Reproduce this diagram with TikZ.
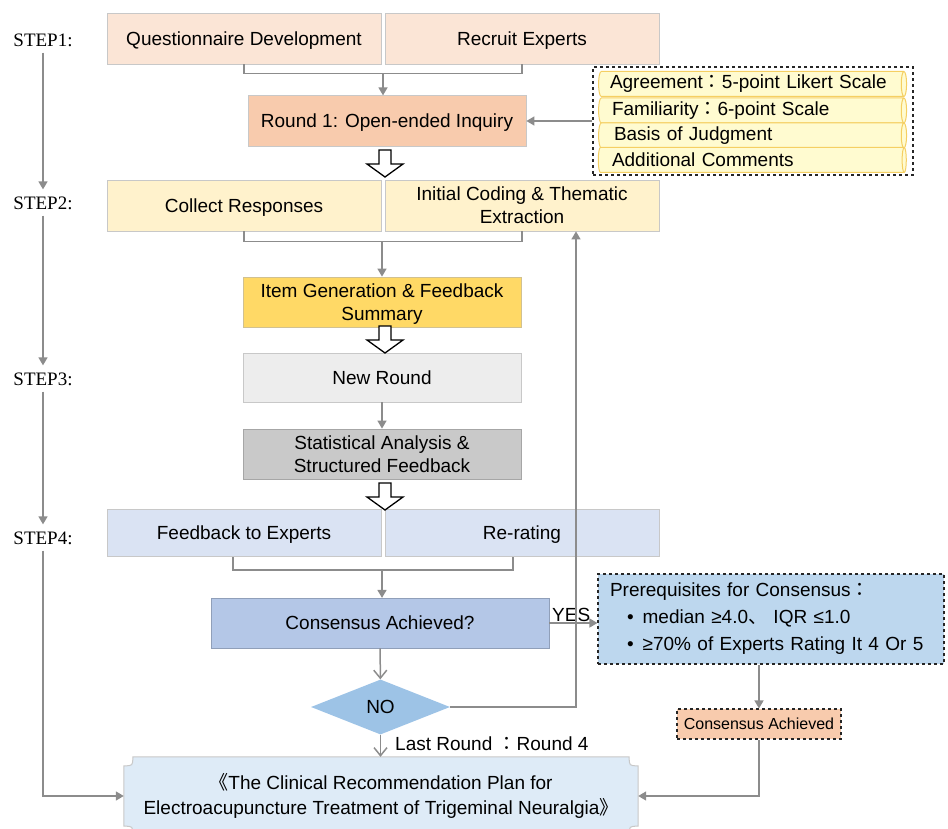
\documentclass[tikz,border=0pt]{standalone}
\usepackage{fontspec}
\setmainfont{Liberation Sans}
\newfontfamily\stepfont{Liberation Serif}
\newfontfamily\cjk{Noto Sans CJK SC}
\newfontfamily\cjkc{Noto Sans CJK JP}
\usetikzlibrary{arrows.meta}
\usetikzlibrary{calc}
\usetikzlibrary{shapes.geometric}
\usetikzlibrary{backgrounds}
\definecolor{linegray}{HTML}{8C8C8C}
\definecolor{boxline}{HTML}{C8C8C8}
\definecolor{peach}{HTML}{FBE5D6}
\definecolor{salmon}{HTML}{F8CBAD}
\definecolor{cream}{HTML}{FFF2CC}
\definecolor{gold}{HTML}{FFD966}
\definecolor{lightgray}{HTML}{EDEDED}
\definecolor{midgray}{HTML}{C9C9C9}
\definecolor{paleblue}{HTML}{DAE3F3}
\definecolor{softblue}{HTML}{B4C7E7}
\definecolor{skyblue}{HTML}{BDD7EE}
\definecolor{diablue}{HTML}{9DC3E6}
\definecolor{planblue}{HTML}{DEEBF7}
\definecolor{rowfill}{HTML}{FFFBD0}
\definecolor{rowline}{HTML}{F5CF62}
\tikzset{
      box/.style={draw=boxline, line width=0.8, minimum height=51, inner sep=2, align=center,
            text depth=0pt, font=\fontsize{19}{23}\selectfont},
      dashbox/.style={draw=black!85, dashed, line width=1.1},
      steplabel/.style={font=\stepfont\fontsize{19}{22}\selectfont, inner sep=1},
      row/.style={cylinder, shape aspect=0.3, draw=rowline, line width=1, cylinder uses custom fill,
            cylinder body fill=rowfill, cylinder end fill=rowfill, minimum height=308, minimum width=25,
            text width=288, align=left, inner sep=0, font=\fontsize{19}{23}\selectfont},
      link/.style={draw=linegray, line width=1.5},
      flow/.style={draw=linegray, line width=1.5, -{Triangle[length=8,width=9]}},
      vflow/.style={draw=linegray, line width=1.5, -{Straight Barb[length=8,width=13]}},
      hollow/.style={draw=black, fill=white, line width=1.3, line join=miter},
      plaque/.style={draw=boxline, fill=planblue, line width=1},
}
\begin{document}
\begin{tikzpicture}[x=1pt, y=-1pt]
        \useasboundingbox (0,0) rectangle (948,829);

        % Step labels
        \node[steplabel] (step1) at (43,40) {STEP1:};
        \node[steplabel] (step2) at (43,203) {STEP2:};
        \node[steplabel] (step3) at (43,379) {STEP3:};
        \node[steplabel] (step4) at (43,538) {STEP4:};

        % Step 1
        \node[box, fill=peach, minimum width=274] (quest) at (244,38.5) {Questionnaire Development};
        \node[box, fill=peach, minimum width=274] (recruit) at (522,38.5) {Recruit Experts};
        \node[box, fill=salmon, minimum width=278] (round1) at (387,120.5) {Round 1: Open-ended Inquiry};

        \node[dashbox, minimum width=320, minimum height=108] (scales) at (753,121) {};
        \node[row] (agree) at (751,84) {\hspace*{3pt}Agreement{\cjkc ：}5-point Likert Scale};
        \node[row] (familiar) at (751,110.5) {\hspace*{5pt}Familiarity{\cjkc ：}6-point Scale};
        \node[row] (basis) at (751,135.5) {\hspace*{7pt}Basis of Judgment};
        \node[row] (comments) at (751,160) {\hspace*{5pt}Additional Comments};

        % Step 2
        \node[box, fill=cream, minimum width=274] (collect) at (244,205.5) {Collect Responses};
        \node[box, fill=cream, minimum width=274] (coding) at (522,205.5) {Initial Coding \& Thematic\\Extraction};
        \node[box, fill=gold, draw=gold!70!black!60, minimum width=278, minimum height=50] (items) at (382,302) {Item Generation \& Feedback\\Summary};

        % Step 3
        \node[box, fill=lightgray, minimum width=278, minimum height=49] (newround) at (382,377.5) {New Round};
        \node[box, fill=midgray, draw=gray!70, minimum width=278, minimum height=50] (stats) at (382,454) {Statistical Analysis \&\\Structured Feedback};

        % Step 4
        \node[box, fill=paleblue, minimum width=274, minimum height=47] (feedback) at (244,533) {Feedback to Experts};
        \node[box, fill=paleblue, minimum width=274, minimum height=47] (rerating) at (522,533) {Re-rating};
        \node[box, fill=softblue, draw=softblue!80!black, minimum width=338, minimum height=50] (consensus) at (380,623) {Consensus Achieved?};
        \node[diamond, fill=diablue, minimum width=139, minimum height=55, inner sep=0,
              font=\fontsize{19}{23}\selectfont] (no) at (380.5,707) {NO};

        \node[dashbox, fill=skyblue, text width=322, inner xsep=12, minimum height=90, align=left,
              font=\fontsize{19}{27}\selectfont] (prereq) at (771,619)
              {Prerequisites for Consensus{\cjkc ：}\\
               \hspace*{17pt}•\hspace{9pt}median ≥4.0{\cjk 、} IQR ≤1.0\\
               \hspace*{17pt}•\hspace{9pt}≥70\% of Experts Rating It 4 Or 5};
        \node[dashbox, fill=salmon, minimum width=164, minimum height=30, inner sep=0,
              font=\fontsize{16}{19}\selectfont] (achieved) at (759,724) {Consensus Achieved};

        \node[minimum width=514, minimum height=78, align=center,
              font=\fontsize{19}{25}\selectfont] (plan) at (381,796)
              {{\cjk 《}The Clinical Recommendation Plan for\\
               Electroacupuncture Treatment of Trigeminal Neuralgia{\cjk 》}};
        \begin{scope}[on background layer]
        \draw[plaque] ($(plan.north west)+(9,0)$) -- ($(plan.north east)+(-9,0)$)
              .. controls ($(plan.north east)+(-9,9)$) .. ($(plan.north east)+(0,9)$)
              -- ($(plan.south east)+(0,-9)$)
              .. controls ($(plan.south east)+(-9,-9)$) .. ($(plan.south east)+(-9,0)$)
              -- ($(plan.south west)+(9,0)$)
              .. controls ($(plan.south west)+(9,-9)$) .. ($(plan.south west)+(0,-9)$)
              -- ($(plan.north west)+(0,9)$)
              .. controls ($(plan.north west)+(9,9)$) .. cycle;
        \end{scope}

        \node[font=\fontsize{19}{23}\selectfont, anchor=base west, inner sep=0] (yes) at (552,621) {YES};
        \node[font=\fontsize{19}{23}\selectfont, anchor=base west, inner sep=0] (last) at (395,750)
              {Last Round {\cjkc ：}Round 4};

        % Draw the step arrows
        \draw[flow, shorten <=5, shorten >=6] (step1) -- (step2);
        \draw[flow, shorten <=5, shorten >=6] (step2) -- (step3);
        \draw[flow, shorten <=5, shorten >=6] (step3) -- (step4);
        \draw[flow, shorten <=5] (step4) |- (plan.west);

        % Draw the connectors
        \draw[link] (quest.south) -- ++(0,9) coordinate (j1) -| (recruit.south);
        \draw[flow] ($(j1)+(139,0)$) -- ++(0,22);
        \draw[flow] (scales.west) -- (scales.west -| round1.east);
        \draw[link] (collect.south) -- ++(0,10) coordinate (j2) -| (coding.south);
        \draw[flow] ($(j2)+(138,0)$) -- (items.north);
        \draw[flow] (newround) -- (stats);
        \draw[link] ($(feedback.south)+(-11,0)$) -- ++(0,13) coordinate (j3) -| ($(rerating.south)+(-9,0)$);
        \draw[flow] ($(j3)+(149,0)$) -- ++(0,28);
        \draw[flow] (consensus.east) -- (consensus.east -| prereq.west);
        \draw[vflow] (consensus) -- (no);
        \draw[vflow] (no) -- (plan.north -| no.south);
        \draw[flow] (no.east) -| ($(coding.south)+(54,0)$);
        \draw[flow] (achieved.north |- prereq.south) -- (achieved.north);
        \draw[flow] (achieved.south) |- (plan.east);

        % Hollow block arrows
        \foreach \y in {150,326,483}
            \draw[hollow] (379,\y) -- (391,\y) -- (391,\y+14) -- (403,\y+14) -- (385,\y+27)
                  -- (367,\y+14) -- (379,\y+14) -- cycle;
\end{tikzpicture}
\end{document}
